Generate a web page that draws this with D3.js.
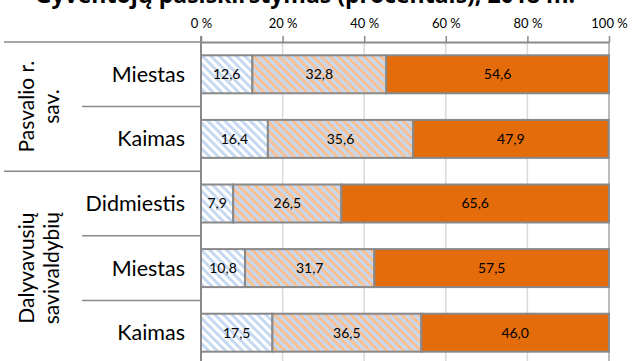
<!DOCTYPE html>
<html><head><meta charset="utf-8">
<script src="https://cdn.jsdelivr.net/npm/d3@7"></script>
<style>body{margin:0;background:#fff}svg{display:block}</style>
</head><body><svg id="c" width="641" height="361"></svg>
<script>
const title = "Gyventojų pasiskirstymas (procentais), 2018 m.";
const groups = ["Pasvalio r.|sav.", "Dalyvavusių|savivaldybių"];
const categories = ["Miestas", "Kaimas", "Didmiestis", "Miestas", "Kaimas"];
const categoryGroup = [0, 0, 1, 1, 1];
const series1 = [12.6, 16.4, 7.9, 10.8, 17.5];
const series2 = [32.8, 35.6, 26.5, 31.7, 36.5];
const series3 = [54.6, 47.9, 65.6, 57.5, 46.0];
const tickValues = [0, 20, 40, 60, 80, 100];
const tickLabels = ["0 %", "20 %", "40 %", "60 %", "80 %", "100 %"];

const svg = d3.select("#c");
const font = "Lato, 'Open Sans', sans-serif";
const grey = "#898989";

const rows = categories.map((c, i) => ({id: i, cat: c, g: categoryGroup[i], vals: [series1[i], series2[i], series3[i]]}));
const x = d3.scaleLinear().domain([0, 100]).range([201, 609]);
const y = d3.scaleBand().domain(rows.map(r => r.id)).range([42, 365]).paddingInner(0.412).paddingOuter(0.206);
const step = y.step();

// patterns
const defs = svg.append("defs");
function stripes(id, bg, fg) {
  const p = defs.append("pattern").attr("id", id).attr("patternUnits", "userSpaceOnUse")
    .attr("width", 6).attr("height", 6).attr("patternTransform", "rotate(-45)");
  p.append("rect").attr("width", 6).attr("height", 6).attr("fill", bg);
  p.append("rect").attr("width", 3).attr("height", 6).attr("fill", fg);
}
stripes("p1", "#ffffff", "#c6d9f1");
stripes("p2", "#c6d9f1", "#f9c093");
const fills = ["url(#p1)", "url(#p2)", "#e46c0a"];

// title (cropped at top as in the reference)
svg.append("text").attr("x", 305).attr("y", 3).attr("text-anchor", "middle")
  .attr("font-family", "'Open Sans', sans-serif").attr("font-weight", "bold").attr("font-size", 23)
  .attr("fill", "#000").text(title);

// gridlines
svg.append("g").selectAll("line").data(tickValues.slice(1)).join("line")
  .attr("x1", d => x(d)).attr("x2", d => x(d)).attr("y1", 42).attr("y2", 365)
  .attr("stroke", d => d === 100 ? "#a6a6a6" : "#d9d9d9").attr("stroke-width", 1.5);

// top axis
const ax = svg.append("g").attr("transform", "translate(0,42)")
  .call(d3.axisTop(x).tickValues(tickValues).tickFormat((d, i) => tickLabels[i]).tickSize(6).tickSizeOuter(0));
ax.select(".domain").attr("stroke", grey).attr("stroke-width", 2);
ax.selectAll(".tick line").attr("stroke", grey).attr("stroke-width", 1.5);
ax.selectAll(".tick text").attr("font-family", font).attr("font-size", 13).attr("fill", "#000").attr("dy", "-0.3em").attr("y", -10);

// bars
const bars = svg.append("g");
rows.forEach(r => {
  let acc = 0;
  r.vals.forEach((v, k) => {
    const x0 = x(acc), x1 = x(acc + v);
    bars.append("rect").attr("x", x0).attr("y", y(r.id)).attr("width", x1 - x0).attr("height", y.bandwidth())
      .attr("fill", fills[k]).attr("stroke", grey).attr("stroke-width", 2);
    bars.append("text").attr("x", (x0 + x1) / 2).attr("y", y(r.id) + y.bandwidth() / 2).attr("dy", "0.35em")
      .attr("text-anchor", "middle").attr("font-family", font).attr("font-size", 14).attr("fill", "#000")
      .text(d3.format(".1f")(v).replace(".", ","));
    acc += v;
  });
});

// left axis line
svg.append("line").attr("x1", 201).attr("x2", 201).attr("y1", 36).attr("y2", 365).attr("stroke", grey).attr("stroke-width", 2);

// separators
const sep = svg.append("g").attr("stroke", grey).attr("stroke-width", 1.5);
for (let i = 0; i <= rows.length; i++) {
  const yy = 42 + i * step;
  const isGroup = i === 0 || i === rows.length || categoryGroup[i] !== categoryGroup[i - 1];
  sep.append("line").attr("x1", isGroup ? 4 : 82).attr("x2", 201).attr("y1", yy).attr("y2", yy);
}

// category labels
svg.append("g").selectAll("text").data(rows).join("text")
  .attr("x", 185).attr("y", d => y(d.id) + y.bandwidth() / 2).attr("dy", "0.35em").attr("text-anchor", "end")
  .attr("font-family", font).attr("font-size", 21.5).attr("fill", "#000").text(d => d.cat);

// group labels
groups.forEach((g, gi) => {
  const idx = rows.filter(r => r.g === gi).map(r => r.id);
  const cy = (y(idx[0]) - (step - y.bandwidth()) / 2 + y(idx[idx.length - 1]) + y.bandwidth() + (step - y.bandwidth()) / 2) / 2;
  const lines = g.split("|");
  const t = svg.append("text").attr("transform", `translate(39,${cy}) rotate(-90)`).attr("text-anchor", "middle")
    .attr("font-family", font).attr("font-size", 21).attr("fill", "#000");
  lines.forEach((l, li) => t.append("tspan").attr("x", 0).attr("y", (li - (lines.length - 1) / 2) * 25).attr("dy", "0.35em").text(l));
});
</script></body></html>
